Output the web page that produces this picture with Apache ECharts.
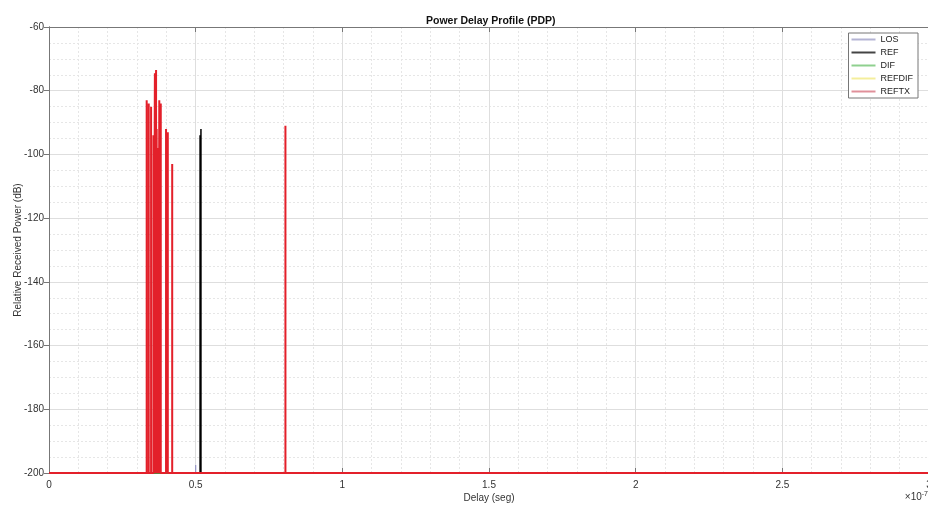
<!DOCTYPE html>
<html>
<head>
<meta charset="utf-8">
<script src="https://cdn.jsdelivr.net/npm/echarts@6/dist/echarts.min.js"></script>
<style>html,body{margin:0;padding:0;background:#fff;}#c{width:928px;height:505px;}</style>
</head>
<body>
<div id="c"></div>
<script>
// Delay values in units of 1e-7 s, power in dB
const xTicks = [0, 0.5, 1, 1.5, 2, 2.5, 3];
const yTicks = [-200, -180, -160, -140, -120, -100, -80, -60];
const baseline = -200;
const xRange = [0, 3];

const seriesNames = ['LOS', 'REF', 'DIF', 'REFDIF', 'REFTX'];

const losDelay = [0.500];
const losPower = [-197.5];

const refDelay = [0.515, 0.518];
const refPower = [-94, -92];

const difDelay = [];
const difPower = [];

const refdifDelay = [];
const refdifPower = [];

const reftxDelay = [0.333, 0.340, 0.348, 0.356, 0.361, 0.365, 0.367, 0.373, 0.376, 0.381, 0.399, 0.405, 0.420, 0.806];
const reftxPower = [-83, -84, -85, -94, -74.5, -73.5, -92, -98, -83, -84, -92, -93, -103, -91];

function pdp(delays, powers) {
  const out = [[xRange[0], baseline]];
  const idx = delays.map((d, i) => i).sort((a, b) => delays[a] - delays[b]);
  idx.forEach(i => {
    out.push([delays[i], baseline]);
    out.push([delays[i], powers[i]]);
    out.push([delays[i], baseline]);
  });
  out.push([xRange[1], baseline]);
  return out;
}

const colors = ['#9a9ac8', '#000000', '#3cb43c', '#f2e23c', '#e3202a'];
const legendColors = ['#b4b4d4', '#444444', '#8fd08f', '#f4ee9c', '#e0909a'];
const widths = [1, 1.5, 1, 1, 2];
const dataSets = [
  pdp(losDelay, losPower),
  pdp(refDelay, refPower),
  pdp(difDelay, difPower),
  pdp(refdifDelay, refdifPower),
  pdp(reftxDelay, reftxPower)
];

const chart = echarts.init(document.getElementById('c'), null, {renderer: 'canvas'});
const fontFam = '"Liberation Sans", Arial, sans-serif';
const axisCol = '#777';
const labelCol = '#333';

chart.setOption({
  animation: false,
  backgroundColor: '#ffffff',
  title: {
    text: 'Power Delay Profile (PDP)',
    left: 421, top: 11,
    textStyle: {fontSize: 10.5, fontWeight: 'bold', color: '#111', fontFamily: fontFam}
  },
  legend: {
    orient: 'vertical', right: 10, top: 33,
    data: seriesNames.map((n, i) => ({
      name: n,
      itemStyle: {color: legendColors[i], borderWidth: 0},
      lineStyle: {color: legendColors[i]}
    })),
    icon: 'rect',
    backgroundColor: '#fff', borderColor: '#777', borderWidth: 1, borderRadius: 0,
    padding: [1, 5, 1, 3], itemGap: 2, itemWidth: 24, itemHeight: 2,
    textStyle: {fontSize: 9, color: '#222', fontFamily: fontFam, lineHeight: 11}
  },
  grid: {left: 49, right: -1, top: 27, bottom: 32, containLabel: false, outerBoundsMode: 'none'},
  xAxis: [{
    type: 'value', min: xTicks[0], max: xTicks[xTicks.length - 1], interval: 0.5,
    name: 'Delay (seg)', nameLocation: 'middle', nameGap: 20, nameMoveOverlap: false,
    nameTextStyle: {fontSize: 10, color: labelCol, fontFamily: fontFam},
    axisLine: {show: true, lineStyle: {color: axisCol, width: 1}},
    axisTick: {show: true, inside: true, length: 5, lineStyle: {color: axisCol}},
    axisLabel: {fontSize: 10, color: labelCol, margin: 7, fontFamily: fontFam},
    splitLine: {show: true, lineStyle: {color: '#dedede', width: 1}},
    minorTick: {show: false, splitNumber: 5},
    minorSplitLine: {show: true, lineStyle: {color: '#e6e6e6', type: [2, 2], width: 1}}
  }, {
    type: 'value', position: 'top', min: xTicks[0], max: xTicks[xTicks.length - 1], interval: 0.5,
    axisLine: {show: true, lineStyle: {color: axisCol, width: 1}},
    axisTick: {show: true, inside: true, length: 5, lineStyle: {color: axisCol}},
    axisLabel: {show: false}, splitLine: {show: false}
  }],
  yAxis: [{
    type: 'value', min: yTicks[0], max: yTicks[yTicks.length - 1], interval: 20,
    name: 'Relative Received Power (dB)', nameLocation: 'middle', nameGap: 26, nameMoveOverlap: false,
    nameTextStyle: {fontSize: 10, color: labelCol, fontFamily: fontFam},
    axisLine: {show: true, lineStyle: {color: axisCol, width: 1}},
    axisTick: {show: false},
    axisLabel: {fontSize: 10, color: labelCol, margin: 5, fontFamily: fontFam},
    splitLine: {show: true, lineStyle: {color: '#dedede', width: 1}},
    minorTick: {show: false, splitNumber: 4},
    minorSplitLine: {show: true, lineStyle: {color: '#e6e6e6', type: [2, 2], width: 1}}
  }, {
    type: 'value', position: 'right', min: yTicks[0], max: yTicks[yTicks.length - 1], interval: 20,
    axisLine: {show: true, lineStyle: {color: axisCol, width: 1}},
    axisTick: {show: true, inside: true, length: 5, lineStyle: {color: axisCol}},
    axisLabel: {show: false}, splitLine: {show: false}
  }],
  graphic: [{
    type: 'text', right: 0, bottom: 3,
    style: {
      text: '×10{s|-7}',
      rich: {s: {fontSize: 7, verticalAlign: 'top', padding: [0, 0, 6, 0]}},
      fontSize: 10, fill: labelCol, fontFamily: fontFam
    }
  }],
  series: seriesNames.map((n, i) => ({
    name: n, type: 'line', data: dataSets[i],
    symbol: 'none', showSymbol: false,
    lineStyle: {color: colors[i], width: widths[i]},
    itemStyle: {color: colors[i]},
    z: 2 + i
  }))
});
</script>
</body>
</html>
